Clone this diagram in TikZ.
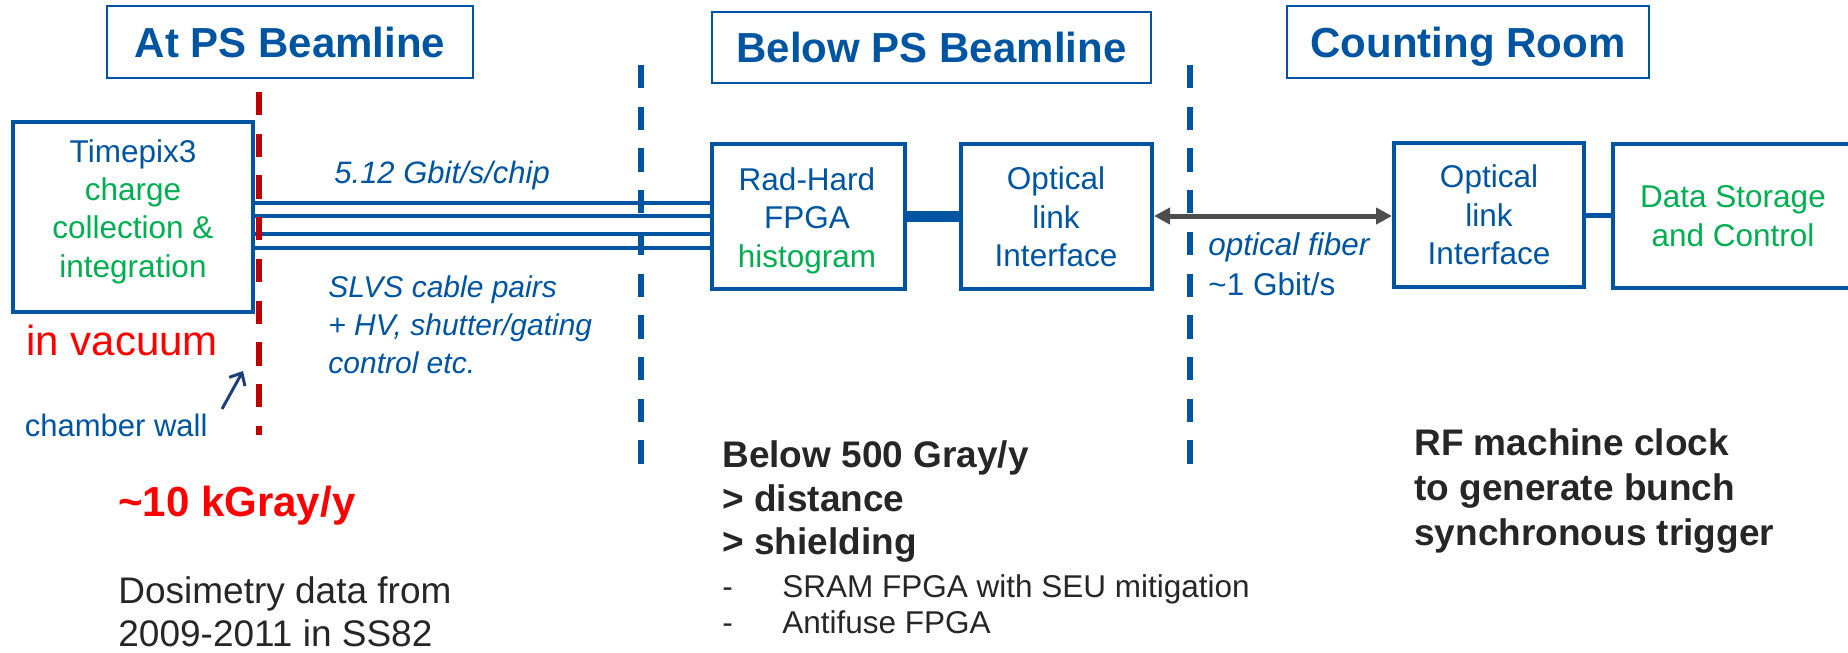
\documentclass[tikz,border=0pt]{standalone}
\usepackage{fontspec}
\setmainfont{Liberation Sans}
\usetikzlibrary{arrows.meta}
\definecolor{pblue}{HTML}{0055A2}
\definecolor{pgreen}{HTML}{00B050}
\definecolor{pred}{HTML}{FF0000}
\definecolor{dred}{HTML}{C00000}
\definecolor{dgray}{HTML}{262626}
\definecolor{agray}{HTML}{4D4D4D}
\definecolor{navy}{HTML}{1F3F7A}
\begin{document}
\begin{tikzpicture}[x=0.5pt,y=-0.5pt,
  hdr/.style={draw=pblue, line width=0.9pt, text=pblue, inner sep=0pt,
    font=\fontsize{21}{25}\selectfont\bfseries, text height=15pt, text depth=0pt},
  blk/.style={draw=pblue, line width=2pt, inner sep=0pt},
  btxt/.style={inner sep=0pt, align=center, font=\fontsize{15.75}{19.2}\selectfont},
  lbl/.style={inner sep=0pt},
  bus/.style={draw=pblue, line width=2.35pt},
  redwall/.style={draw=dred, line width=3pt, dash pattern=on 11.65pt off 9.2pt},
  bluewall/.style={draw=pblue, line width=2.75pt, dash pattern=on 11.65pt off 9.2pt}
]
\useasboundingbox (0,0) rectangle (1848,653);
\clip (0,0) rectangle (1848,653);

% headers
\node[hdr, minimum width=183pt, minimum height=36pt] (hA) at (290,42) {At PS Beamline};
\node[hdr, minimum width=219.5pt, minimum height=35.5pt] (hB) at (931.5,47.5) {Below PS Beamline};
\node[hdr, minimum width=181pt, minimum height=36pt] (hC) at (1468,42) {Counting Room};

% blocks
\node[blk, minimum width=120pt, minimum height=95pt] (tpx) at (133,217) {};
\node[blk, minimum width=96.5pt, minimum height=72.5pt] (rad) at (808.5,216.5) {};
\node[blk, minimum width=95.5pt, minimum height=72.5pt] (opt1) at (1056.5,216.5) {};
\node[blk, minimum width=95pt, minimum height=72pt] (opt2) at (1489,215) {};
\node[blk, minimum width=122.5pt, minimum height=72pt] (dsc) at (1735.5,216) {};

% block texts
\node[btxt, text=pgreen] (tpxT) at (133,211.5) {\textcolor{pblue}{Timepix3}\\charge\\collection \&\\integration};
\node[btxt, text=pblue] (radT) at (807,220.5) {Rad-Hard\\FPGA\\\textcolor{pgreen}{histogram}};
\node[btxt, text=pblue] (opt1T) at (1056,217) {Optical\\link\\Interface};
\node[btxt, text=pblue] (opt2T) at (1489,215) {Optical\\link\\Interface};
\node[btxt, text=pgreen] (dscT) at (1733,216) {Data Storage\\and Control};

% connectors
\foreach \yy in {203,216,234,248}
  \draw[bus] (tpx.east |- 0,\yy) -- (rad.west |- 0,\yy);
\draw[pblue, line width=5.5pt] (rad) -- (opt1);
\draw[agray, line width=2.5pt, {Triangle[length=8pt,width=8pt]}-{Triangle[length=8pt,width=8pt]}]
  (opt1.east |- 0,216) -- (opt2.west |- 0,216);
\draw[pblue, line width=2.5pt] (opt2.east) -- (opt2.east -| dsc.west);

% walls
\coordinate (rt) at (259,92);
\coordinate (rb) at (259,435);
\coordinate (b1t) at (641,65);
\coordinate (b1b) at (641,466);
\coordinate (b2t) at (1190,65);
\coordinate (b2b) at (1190,466);
\draw[redwall] (rt) -- (rb);
\draw[bluewall] (b1t) -- (b1b);
\draw[bluewall] (b2t) -- (b2b);

% labels
\node[lbl, anchor=base west, text=pblue, font=\itshape\fontsize{15.5}{19}\selectfont] (rate) at (334,183) {5.12 Gbit/s/chip};
\node[lbl, anchor=north west, align=left, text=pblue, font=\itshape\fontsize{15}{19.15}\selectfont] (slvs) at (328,275) {SLVS cable pairs\\+ HV, shutter/gating\\control etc.};
\node[lbl, anchor=base west, text=pred, font=\fontsize{21}{25}\selectfont] (vac) at (26,355) {in vacuum};
\node[lbl, anchor=base west, text=pblue, font=\fontsize{15.5}{19}\selectfont] (cw) at (24.5,436) {chamber wall};
\coordinate (cwt) at (222,409);
\coordinate (cwh) at (243,371);
\draw[navy, line width=1.5pt, -{Straight Barb[length=5pt,width=9pt]}] (cwt) -- (cwh);
\node[lbl, anchor=base west, text=pred, font=\fontsize{21}{25}\selectfont\bfseries] (dose) at (118,516) {\textasciitilde{}10 kGray/y};
\node[lbl, anchor=north west, align=left, text=dgray, font=\fontsize{18.5}{21.5}\selectfont] (dosi) at (118,576) {Dosimetry data from\\2009-2011 in SS82};
\node[lbl, anchor=north west, align=left, text=dgray, font=\fontsize{18.5}{21.75}\selectfont\bfseries] (b500) at (722,440.5) {Below 500 Gray/y\\> distance\\> shielding};
\node[lbl, anchor=north west, align=left, text=dgray, font=\fontsize{15.75}{18}\selectfont] (bul) at (722,574) {\makebox[30pt][l]{-}SRAM FPGA with SEU mitigation\\\makebox[30pt][l]{-}Antifuse FPGA};
\node[lbl, anchor=north west, align=left, text=dgray, font=\fontsize{18.5}{22.5}\selectfont\bfseries] (rf) at (1414,428.4) {RF machine clock\\to generate bunch\\synchronous trigger};
\node[lbl, anchor=base west, text=pblue, font=\itshape\fontsize{15.75}{19}\selectfont] (fib) at (1208,255) {optical fiber};
\node[lbl, anchor=base west, text=pblue, font=\fontsize{15.75}{19}\selectfont] (gbs) at (1208,295) {\textasciitilde{}1 Gbit/s};
\end{tikzpicture}
\end{document}
